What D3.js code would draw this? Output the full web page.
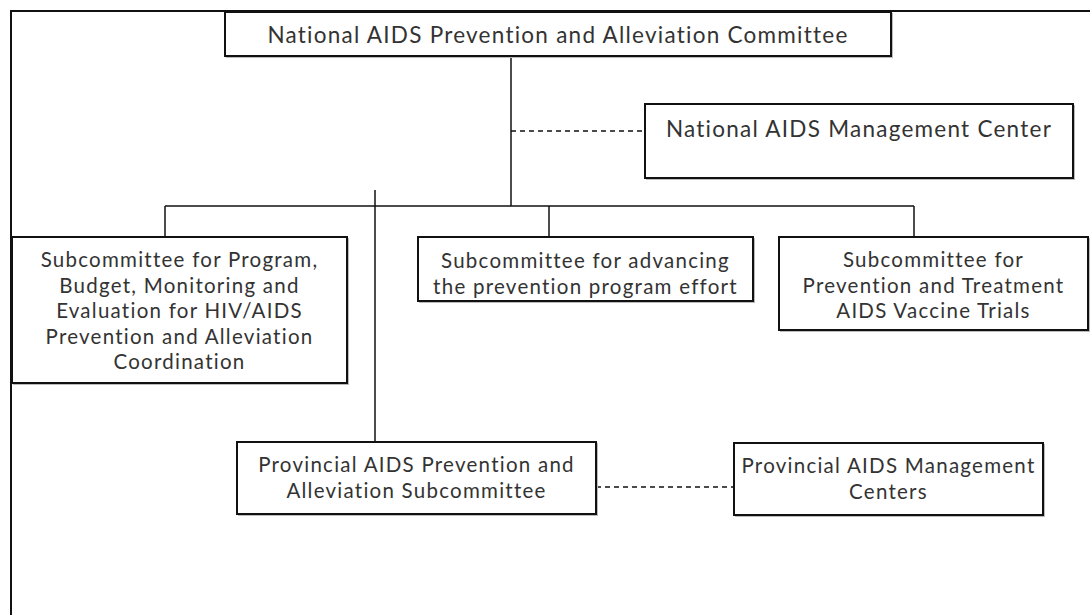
<!DOCTYPE html>
<html>
<head>
<meta charset="utf-8">
<script src="https://cdn.jsdelivr.net/npm/d3@7"></script>
<style>
  body { margin: 0; background: #fff; }
  svg { display: block; }
</style>
</head>
<body>
<div class="container"></div>
<script>

// org chart content
const nodeIds = ['top', 'nmc', 'sub1', 'sub2', 'sub3', 'prov', 'pmc'];
const nodeLabels = [
  ['National AIDS Prevention and Alleviation Committee'],
  ['National AIDS Management Center'],
  ['Subcommittee for Program,', 'Budget, Monitoring and', 'Evaluation for HIV/AIDS', 'Prevention and Alleviation', 'Coordination'],
  ['Subcommittee for advancing', 'the prevention program effort'],
  ['Subcommittee for', 'Prevention and Treatment', 'AIDS Vaccine Trials'],
  ['Provincial AIDS Prevention and', 'Alleviation Subcommittee'],
  ['Provincial AIDS Management', 'Centers']
];
const solidLinks = [['top', 'sub1'], ['top', 'sub2'], ['top', 'sub3'], ['top', 'prov']];
const dashedLinks = [['top', 'nmc'], ['prov', 'pmc']];

const renderOrgChart = () => {

  const width = 1090;
  const height = 615;

  // layout grid (page units), mapped through scales
  const x = d3.scaleLinear().domain([0, 1090]).range([0, width]);
  const y = d3.scaleLinear().domain([0, 615]).range([0, height]);

  const layout = {
    top:  { x0: 225, x1: 891, y0: 12,  y1: 56,  dy: 1,   fs: 22.5 },
    nmc:  { x0: 645, x1: 1073, y0: 104, y1: 178, dy: -12, fs: 22.5 },
    sub1: { x0: 12,  x1: 347, y0: 237, y1: 383, dy: 1,   fs: 20.5 },
    sub2: { x0: 418, x1: 753, y0: 237, y1: 301, dy: 5,   fs: 20.5 },
    sub3: { x0: 779, x1: 1088, y0: 237, y1: 330, dy: 2,   fs: 20.5 },
    prov: { x0: 237, x1: 596, y0: 442, y1: 514, dy: 0,   fs: 20.5 },
    pmc:  { x0: 734, x1: 1043, y0: 443, y1: 515, dy: 0,   fs: 20.5 }
  };
  const trunkX = 511;
  const busY = 206;
  const provTrunkX = 375;
  const provTrunkTop = 190;
  const lineH = 25.4;

  const nodes = nodeIds.map((id, i) => Object.assign({ id: id, lines: nodeLabels[i] }, layout[id]));
  const byId = {};
  nodes.forEach(n => byId[n.id] = n);

  const svg = d3.select('.container')
    .append('svg')
    .attr('width', width)
    .attr('height', height);

  // outer frame (left and top only)
  svg.append('path')
    .attr('d', `M${x(11)},${y(615)}V${y(11)}H${x(1090)}`)
    .attr('fill', 'none')
    .attr('stroke', '#111')
    .attr('stroke-width', 2);

  const g = svg.append('g').attr('fill', 'none').attr('stroke', '#111').attr('stroke-width', 1.5);

  // trunk from the committee down to the bus
  const top = byId.top;
  g.append('line')
    .attr('x1', x(trunkX)).attr('x2', x(trunkX))
    .attr('y1', y(top.y1)).attr('y2', y(busY));

  const subs = solidLinks.filter(l => l[1] !== 'prov').map(l => byId[l[1]]);
  const dropX = d => d.id === 'sub1' ? 165 : d.id === 'sub2' ? 549 : 914;

  g.append('line')
    .attr('x1', x(d3.min(subs, dropX))).attr('x2', x(d3.max(subs, dropX)))
    .attr('y1', y(busY)).attr('y2', y(busY));

  g.selectAll('line.drop')
    .data(subs)
    .enter()
    .append('line')
    .attr('class', 'drop')
    .attr('x1', d => x(dropX(d))).attr('x2', d => x(dropX(d)))
    .attr('y1', y(busY)).attr('y2', d => y(d.y0));

  // provincial branch
  g.append('line')
    .attr('x1', x(provTrunkX)).attr('x2', x(provTrunkX))
    .attr('y1', y(provTrunkTop)).attr('y2', y(byId.prov.y0));

  // dashed coordination links
  const dashPos = {
    nmc: [trunkX, 131],
    pmc: [byId.prov.x1, 487]
  };
  g.selectAll('line.dash')
    .data(dashedLinks)
    .enter()
    .append('line')
    .attr('class', 'dash')
    .attr('stroke-dasharray', '5,4')
    .attr('x1', d => x(dashPos[d[1]][0]))
    .attr('x2', d => x(byId[d[1]].x0))
    .attr('y1', d => y(dashPos[d[1]][1]))
    .attr('y2', d => y(dashPos[d[1]][1]));

  // boxes
  const box = svg.selectAll('g.node')
    .data(nodes)
    .enter()
    .append('g')
    .attr('class', 'node');

  box.append('rect')
    .attr('x', d => x(d.x0) + 1.5)
    .attr('y', d => y(d.y0) + 1.5)
    .attr('width', d => x(d.x1) - x(d.x0))
    .attr('height', d => y(d.y1) - y(d.y0))
    .attr('fill', 'none')
    .attr('stroke', '#bbb')
    .attr('stroke-width', 1);

  box.append('rect')
    .attr('x', d => x(d.x0))
    .attr('y', d => y(d.y0))
    .attr('width', d => x(d.x1) - x(d.x0))
    .attr('height', d => y(d.y1) - y(d.y0))
    .attr('fill', '#fff')
    .attr('stroke', '#111')
    .attr('stroke-width', 2);

  box.each(function (d) {
    const cx = x((d.x0 + d.x1) / 2);
    const cy = y((d.y0 + d.y1) / 2) + d.dy;
    const n = d.lines.length;
    d3.select(this).selectAll('text')
      .data(d.lines)
      .enter()
      .append('text')
      .attr('x', cx)
      .attr('y', (t, i) => cy + (i - (n - 1) / 2) * lineH)
      .attr('dy', '0.35em')
      .attr('text-anchor', 'middle')
      .attr('font-family', 'Lato, sans-serif')
      .attr('font-size', d.fs)
      .attr('letter-spacing', 1.25)
      .attr('fill', '#333')
      .text(t => t);
  });

};

renderOrgChart();
</script>
</body>
</html>
